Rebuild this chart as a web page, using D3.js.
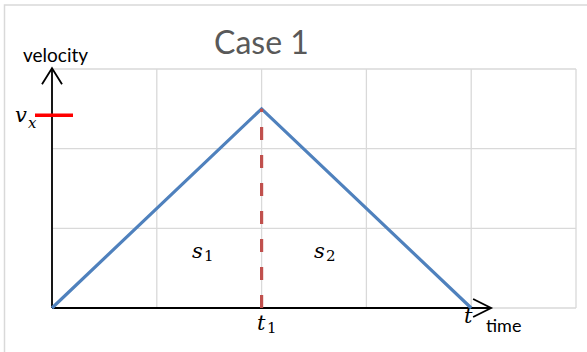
<!DOCTYPE html>
<html><head><meta charset="utf-8">
<script src="https://cdn.jsdelivr.net/npm/d3@7"></script>
<style>body{margin:0;background:#fff}svg{display:block}</style>
</head><body><svg id="c" width="587" height="352"></svg>
<script>
// Data
const timePoints = [0, 2, 4];          // start, t1, t
const velocities = [0, 2.5, 0];        // velocity at those times
const t1Value = 2;
const vxLevel = 2.42;
const xGrid = [0, 1, 2, 3, 4, 5];
const yGrid = [0, 1, 2, 3];
const titleText = "Case 1";

const svg = d3.select("#c");
const x = d3.scaleLinear().domain([0, 5]).range([52, 576]);
const y = d3.scaleLinear().domain([0, 3]).range([308, 69]);

// outer border
svg.append("path").attr("d", "M4.5,352 V5 H587").attr("fill", "none")
  .attr("stroke", "#d9d9d9").attr("stroke-width", 1.5);

// gridlines
svg.append("g").selectAll("line").data(xGrid).join("line")
  .attr("x1", d => x(d)).attr("x2", d => x(d)).attr("y1", y(0)).attr("y2", y(3))
  .attr("stroke", "#d9d9d9").attr("stroke-width", 1.3);
svg.append("g").selectAll("line").data(yGrid).join("line")
  .attr("x1", x(0)).attr("x2", x(5)).attr("y1", d => y(d)).attr("y2", d => y(d))
  .attr("stroke", "#d9d9d9").attr("stroke-width", 1.3);

// title
svg.append("text").attr("x", 214).attr("y", 54).text(titleText)
  .attr("font-family", "Lato, 'Open Sans', sans-serif").attr("font-size", 32).attr("fill", "#595959");

// axes with arrows
const ax = svg.append("g").attr("stroke", "#000").attr("fill", "none").attr("stroke-width", 1.8);
ax.append("line").attr("x1", x(0)).attr("x2", x(4.19)).attr("y1", y(0)).attr("y2", y(0));
ax.append("path").attr("d", `M${x(4.19)-18},${y(0)-9} L${x(4.19)},${y(0)} L${x(4.19)-18},${y(0)+9}`);
ax.append("line").attr("x1", x(0)).attr("x2", x(0)).attr("y1", y(0)).attr("y2", y(3.01));
ax.append("path").attr("d", `M${x(0)-10},${y(3.01)+16} L${x(0)},${y(3.01)} L${x(0)+10},${y(3.01)+16}`);

// velocity line
svg.append("path").datum(timePoints.map((t, i) => [t, velocities[i]]))
  .attr("d", d3.line().x(d => x(d[0])).y(d => y(d[1])))
  .attr("fill", "none").attr("stroke", "#4f81bd").attr("stroke-width", 3.2);

// t1 dashed
svg.append("line").attr("x1", x(t1Value)).attr("x2", x(t1Value))
  .attr("y1", y(0)).attr("y2", y(velocities[1]))
  .attr("stroke", "#c0504d").attr("stroke-width", 3.2).attr("stroke-dasharray", "13,15");

// vx tick
svg.append("line").attr("x1", 35).attr("x2", 73).attr("y1", y(vxLevel)).attr("y2", y(vxLevel))
  .attr("stroke", "#ff0000").attr("stroke-width", 3.6);

// axis labels
const sans = "Lato, 'Open Sans', sans-serif";
svg.append("text").attr("x", 23).attr("y", 62).text("velocity")
  .attr("font-family", sans).attr("font-size", 19).attr("fill", "#000");
svg.append("text").attr("x", 486).attr("y", 332).text("time")
  .attr("font-family", sans).attr("font-size", 18).attr("fill", "#000");

// math labels
const serif = "'DejaVu Serif', 'Liberation Serif', serif";
function mlabel(xp, yp, main, sub, subItalic, dx, dy) {
  svg.append("text").attr("x", xp).attr("y", yp).text(main)
    .attr("font-family", serif).attr("font-style", "italic").attr("font-size", 21);
  if (sub) svg.append("text").attr("x", xp + dx).attr("y", yp + dy).text(sub)
    .attr("font-family", serif).attr("font-style", subItalic ? "italic" : "normal").attr("font-size", 15);
}
mlabel(15, 122, "v", "x", true, 13, 6);
mlabel(192, 258, "s", "1", false, 12, 3);
mlabel(314, 258, "s", "2", false, 12, 3);
mlabel(257, 330, "t", "1", false, 10, 3);
mlabel(464, 323, "t", null);
</script></body></html>
